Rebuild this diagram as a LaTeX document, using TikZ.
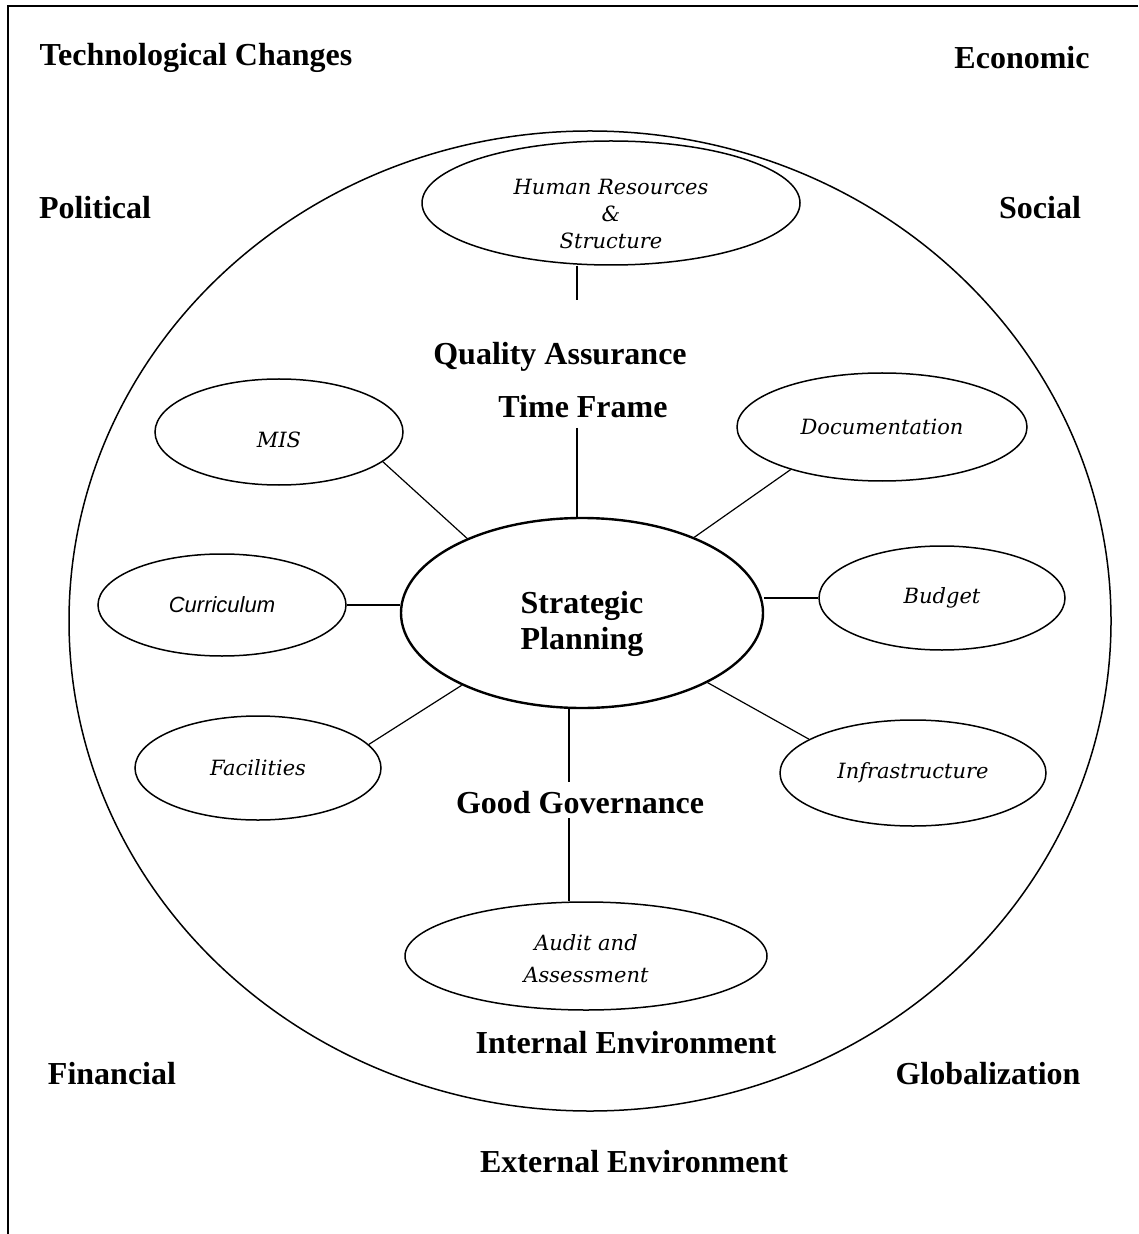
\documentclass[tikz,border=0pt]{standalone}
\usepackage{fontspec}
\setmainfont{Liberation Serif}
\newfontfamily\bookfont{DejaVu Serif}
\newfontfamily\arialfont{Liberation Sans}
\usetikzlibrary{shapes.geometric}

\begin{document}
\begin{tikzpicture}[x=0.5pt,y=-0.5pt,
    lbl/.style={font=\fontsize{16}{18}\selectfont\bfseries, inner sep=0pt},
    oval/.style={draw, ellipse, line width=0.75pt, inner sep=0pt, align=center,
      font=\bookfont\itshape\fontsize{10.5}{13.5}\selectfont},
    ovaltext/.style={align=center, inner sep=0pt,
      font=\bookfont\itshape\fontsize{10.5}{13.5}\selectfont},
    link/.style={line width=0.6pt}]
  \useasboundingbox (0,0) rectangle (1138,1234);

  % page frame (only top and left edges show)
  \draw[line width=1pt] (1138,6) -- (8,6) -- (8,1234);

  % internal environment
  \draw[line width=0.75pt] (590,621) ellipse [x radius=521, y radius=490];

  \node[lbl] (tech) at (196,58) {Technological Changes};
  \node[lbl] (eco) at (1022,58) {Economic};
  \node[lbl] (pol) at (95,208) {Political};
  \node[lbl] (soc) at (1040,208) {Social};
  \node[lbl] (fin) at (112,1074) {Financial};
  \node[lbl] (glob) at (988,1074) {Globalization};
  \node[lbl] (ext) at (634,1162) {External Environment};
  \node[lbl] (int) at (626,1043) {Internal Environment};

  %%%%%%%%%%%%%%%%%%%%%%%%%%%%%%%%%%%%

  \node[oval, line width=1.2pt, minimum width=181pt, minimum height=95pt,
    label={[ovaltext, yshift=-5.5pt, font=\fontsize{16}{18}\selectfont\bfseries]center:Strategic\\Planning}]
    (sp) at (582,613) {};

  \node[oval, minimum width=189pt, minimum height=62pt,
    label={[ovaltext, yshift=-5.5pt]center:Human Resources\\\&\\Structure}] (hr) at (611,203) {};
  \node[oval, minimum width=124pt, minimum height=53pt,
    label={[ovaltext, yshift=-4pt]center:MIS}] (mis) at (279,432) {};
  \node[oval, minimum width=145pt, minimum height=54pt] (doc) at (882,427) {Documentation};
  \node[oval, minimum width=124pt, minimum height=51pt,
    font=\arialfont\itshape\fontsize{11}{13}\selectfont] (curr) at (222,605) {\raisebox{-1.5pt}{Curriculum}};
  \node[oval, minimum width=123pt, minimum height=52pt] (bud) at (942,598) {Budget};
  \node[oval, minimum width=123pt, minimum height=52pt] (fac) at (258,768) {Facilities};
  \node[oval, minimum width=133pt, minimum height=53pt] (infra) at (913,773) {Infrastructure};
  \node[oval, minimum width=181pt, minimum height=54pt,
    label={[ovaltext, yshift=-1.5pt, font=\bookfont\itshape\fontsize{10.5}{16}\selectfont]center:Audit and\\Assessment}]
    (audit) at (586,956) {};

  \node[lbl] (qa) at (560,357) {Quality Assurance};
  \node[lbl] (tf) at (583,407) {Time Frame};
  \node[lbl] (gg) at (580,803) {Good Governance};

  %%%%%%%%%%%%%%%%%%%%%%%%%%%%%%%%%%%%

  \coordinate (qaup) at (577,300);
  \coordinate (tfdown) at (577,428);
  \coordinate (ggup) at (569,782);
  \coordinate (ggdown) at (569,818);

  \draw[link] (hr.south -| qaup) -- (qaup);
  \draw[link] (tfdown) -- (sp.north -| tfdown);
  \draw[link] (sp.south -| ggup) -- (ggup);
  \draw[link] (ggdown) -- (audit.north -| ggdown);

  \draw[link] (mis.-16.5) -- (sp.147);
  \draw[link] (doc.205) -- (sp.34);
  \draw[link] (curr.east) -- (sp.west |- curr.east);
  \draw[link] (sp.east |- bud.west) -- (bud.west);
  \draw[link] (fac.12) -- (sp.211);
  \draw[link] (sp.-29) -- (infra.162);
\end{tikzpicture}
\end{document}
